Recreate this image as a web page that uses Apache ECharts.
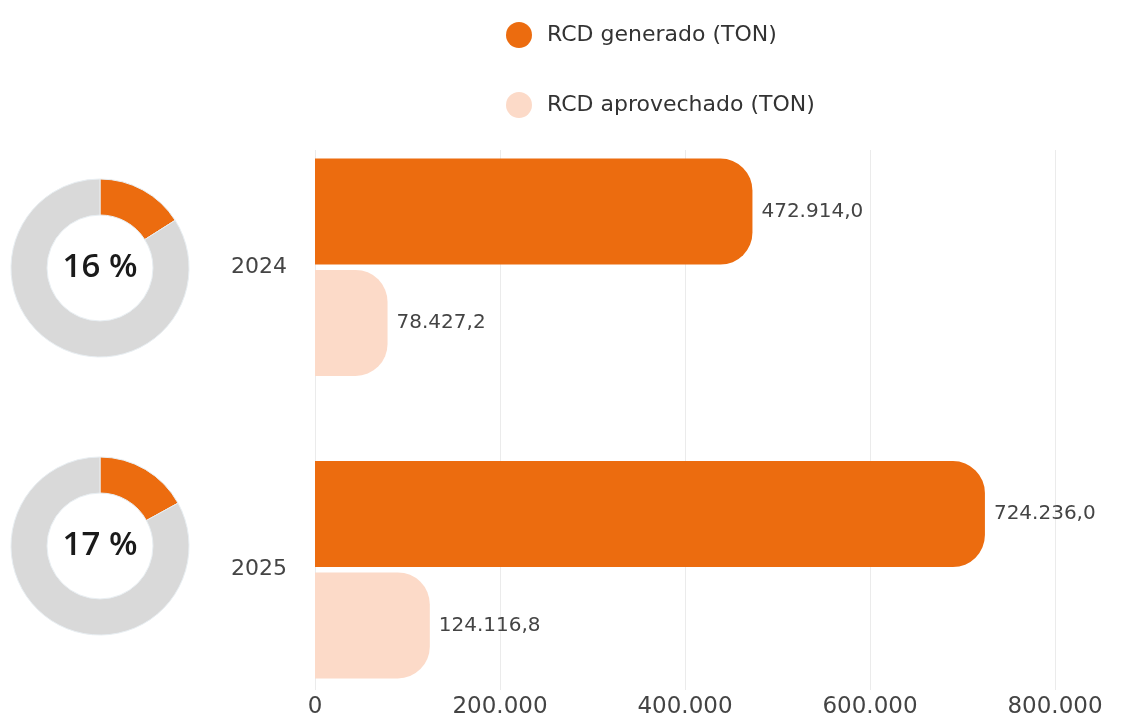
<!DOCTYPE html>
<html>
<head>
<meta charset="utf-8">
<script src="https://cdn.jsdelivr.net/npm/echarts@6/dist/echarts.min.js"></script>
<style>
html,body{margin:0;padding:0;background:#fff;}
#chart{width:1131px;height:721px;}
</style>
</head>
<body>
<div id="chart"></div>
<script>
const years = ['2024', '2025'];
const generado = [472914.0, 724236.0];
const aprovechado = [78427.2, 124116.8];
const percentages = [16, 17];
const seriesNames = ['RCD generado (TON)', 'RCD aprovechado (TON)'];
const axisTicks = [0, 200000, 400000, 600000, 800000];

const ORANGE = '#ec6c0f';
const PEACH = '#fcdac8';
const GRAY = '#d9d9d9';
const FONT = 'DejaVu Sans';

function fmt(v, dec) {
  const parts = v.toFixed(dec).split('.');
  const int = parts[0].replace(/\B(?=(\d{3})+(?!\d))/g, '.');
  return parts.length > 1 ? int + ',' + parts[1] : int;
}

const donutCenters = [[100, 268], [100, 546]];
const pieSeries = percentages.map((p, i) => ({
  type: 'pie',
  center: donutCenters[i],
  radius: [53, 89],
  startAngle: 90,
  clockwise: true,
  silent: true,
  animation: false,
  itemStyle: { borderColor: '#e8eef2', borderWidth: 1 },
  labelLine: { show: false },
  data: [
    { value: p, itemStyle: { color: ORANGE },
      label: { show: true, position: 'center', formatter: p + ' %',
               fontSize: 33, fontWeight: 600, color: '#1a1a1a', fontFamily: 'Open Sans' } },
    { value: 100 - p, itemStyle: { color: GRAY }, label: { show: false } }
  ]
}));

const barLabel = {
  show: true, position: 'right', distance: 9,
  fontSize: 20, color: '#444', fontFamily: FONT,
  formatter: p => fmt(p.value, 1)
};

const option = {
  backgroundColor: '#fff',
  animation: false,
  legend: {
    orient: 'vertical', left: 501, top: 17,
    itemWidth: 26, itemHeight: 26, itemGap: 44,
    icon: 'circle', selectedMode: false,
    textStyle: { fontSize: 22, color: '#333', fontFamily: FONT, padding: [0, 0, 0, 10] },
    data: seriesNames
  },
  grid: [
    { left: 315, right: 76, top: 116, height: 608 },
    { left: 315, right: 76, top: 150, bottom: 31 }
  ],
  xAxis: [
    { type: 'value', gridIndex: 0, min: axisTicks[0], max: axisTicks[axisTicks.length - 1],
      interval: axisTicks[1] - axisTicks[0],
      axisLabel: { show: false }, axisLine: { show: false }, axisTick: { show: false },
      splitLine: { show: false } },
    { type: 'value', gridIndex: 1, min: axisTicks[0], max: axisTicks[axisTicks.length - 1],
      interval: axisTicks[1] - axisTicks[0],
      axisLine: { show: false }, axisTick: { show: false },
      splitLine: { show: true, lineStyle: { color: '#ebebeb', width: 1 } },
      axisLabel: { margin: 6, fontSize: 23, color: '#444', fontFamily: FONT,
                   formatter: v => fmt(v, 0) } }
  ],
  yAxis: [
    { type: 'category', gridIndex: 0, data: years, inverse: true,
      axisLine: { show: false }, axisTick: { show: false },
      axisLabel: { margin: 28, fontSize: 22, color: '#444', fontFamily: FONT } },
    { type: 'value', gridIndex: 1, show: false }
  ],
  series: [
    { name: seriesNames[0], type: 'bar', xAxisIndex: 0, yAxisIndex: 0,
      data: generado, barWidth: 106, barGap: '5%',
      itemStyle: { color: ORANGE, borderRadius: [0, 32, 32, 0] },
      label: barLabel },
    { name: seriesNames[1], type: 'bar', xAxisIndex: 0, yAxisIndex: 0,
      data: aprovechado, barWidth: 106, barGap: '5%',
      itemStyle: { color: PEACH, borderRadius: [0, 32, 32, 0] },
      label: barLabel },
    ...pieSeries
  ]
};

const chart = echarts.init(document.getElementById('chart'), null, { renderer: 'canvas' });
chart.setOption(option);
</script>
</body>
</html>
